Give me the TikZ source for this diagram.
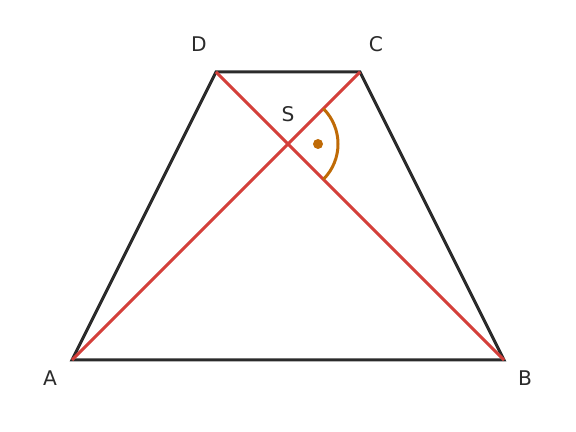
\documentclass[tikz,border=0pt]{standalone}
\usepackage{fontspec}
\setmainfont{DejaVu Sans}
\definecolor{edgegray}{HTML}{2B2B2B}
\definecolor{diagred}{HTML}{D43F3A}
\definecolor{anglebrown}{HTML}{BF6A06}
\tikzset{
  side/.style={line width=0.06cm, edgegray},
  diag/.style={line width=0.06cm, diagred},
  mark/.style={},
  pointlabel/.style={font=\fontsize{11.5}{14}\selectfont, text=edgegray, inner sep=0pt}
}
\begin{document}
\begin{tikzpicture}
\useasboundingbox (0, 0) rectangle (11.52, 8.64);
\coordinate (A) at (1.44, 1.44);
\coordinate (B) at (10.08, 1.44);
\coordinate (C) at (7.2, 7.2);
\coordinate (D) at (4.32, 7.2);
\coordinate (S) at (5.76, 5.76);

\draw [side] (A) -- (B) -- (C) -- (D) -- cycle;
\draw [diag] (A) -- (C)
      (B) -- (D);

% right angle at S
\draw [line width=0.06cm, anglebrown] ([shift={(-45:1.0)}]S) arc (-45:45:1.0);
\fill [anglebrown] ([shift={(0:0.6)}]S) circle (0.1);

\node [pointlabel] (labA) at (1.0, 1.08) {A};
\node [pointlabel] (labB) at (10.5, 1.08) {B};
\node [pointlabel] (labC) at (7.52, 7.76) {C};
\node [pointlabel] (labD) at (3.98, 7.76) {D};
\node [pointlabel] (labS) at (5.76, 6.36) {S};
\end{tikzpicture}
\end{document}
